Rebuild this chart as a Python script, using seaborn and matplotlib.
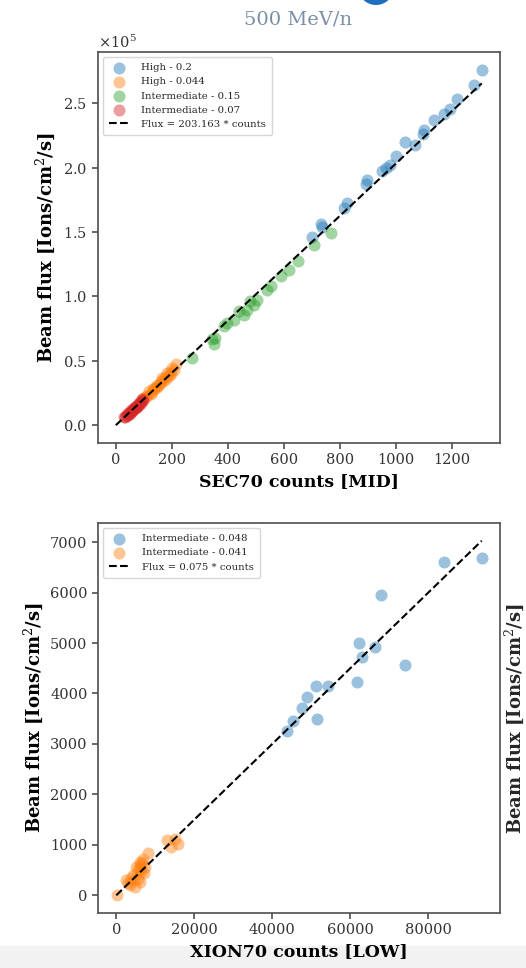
import matplotlib
matplotlib.use("Agg")
import matplotlib.pyplot as plt
from matplotlib.patches import Polygon, Rectangle
import numpy as np
import seaborn as sns

# --- top panel: SEC70 (MID) ---
sec_groups = ["High - 0.2", "High - 0.044", "Intermediate - 0.15", "Intermediate - 0.07"]
sec_x = {
    "High - 0.2": [701, 732, 735, 816, 824, 893, 898, 952, 964, 981, 1000, 1034,
                   1068, 1097, 1100, 1135, 1172, 1195, 1218, 1281, 1307],
    "High - 0.044": [95, 101, 107, 113, 119, 124, 128, 133, 136, 142, 148, 152,
                     157, 162, 166, 170, 175, 180, 184, 190, 193, 198, 202, 208,
                     214],
    "Intermediate - 0.15": [273, 344, 350, 356, 385, 397, 421, 439, 459, 469, 480,
                            492, 504, 540, 555, 591, 620, 652, 708, 767],
    "Intermediate - 0.07": [30, 33, 36, 40, 42, 45, 47, 50, 53, 55, 58, 60, 62, 65,
                            67, 70, 72, 74, 77, 80, 82, 84, 87, 89, 93, 95, 98],
}
sec_y = {
    "High - 0.2": [146500, 156100, 153800, 168500, 172400, 187100, 190400, 197600,
                   199400, 202000, 209200, 219600, 217500, 226500, 229000, 236800,
                   241500, 245900, 253300, 264500, 276100],
    "High - 0.044": [20100, 21000, 22700, 22300, 26500, 24500, 26000, 27800, 29200,
                     28500, 31000, 30500, 32000, 34000, 36900, 34500, 37500, 36000,
                     40800, 38500, 41500, 40000, 44700, 43000, 47200],
    "Intermediate - 0.15": [52400, 66600, 62700, 67900, 76900, 79500, 82000, 88500,
                            85900, 89800, 96200, 93700, 97500, 105300, 107800,
                            115600, 120700, 127200, 139600, 149100],
    "Intermediate - 0.07": [6700, 6300, 7000, 8200, 7700, 9500, 9800, 9000, 10300,
                            11800, 11200, 12800, 12000, 12400, 14200, 14000, 13500,
                            14500, 15000, 16800, 15800, 16500, 18200, 17600, 18500,
                            20000, 19500],
}
sec_slope = 203.163

# --- bottom panel: XION70 (LOW) ---
xion_groups = ["Intermediate - 0.048", "Intermediate - 0.041"]
xion_x = {
    "Intermediate - 0.048": [43700, 45200, 47700, 48900, 51200, 51500, 54300, 61600,
                             62200, 62900, 66300, 68000, 74000, 83900, 93700],
    "Intermediate - 0.041": [150, 2560, 3000, 3410, 3900, 4270, 4500, 4700, 5130,
                             5550, 5500, 5980, 5980, 6000, 6200, 6410, 6600, 6830,
                             7000, 7270, 8110, 12990, 14110, 14960, 15810],
}
xion_y = {
    "Intermediate - 0.048": [3250, 3450, 3710, 3940, 4140, 3500, 4140, 4220, 5000,
                             4720, 4930, 5960, 4560, 6600, 6690],
    "Intermediate - 0.041": [14, 297, 250, 198, 350, 396, 300, 165, 561, 330, 500,
                             264, 660, 600, 520, 462, 640, 725, 450, 561, 838, 1103,
                             957, 1122, 1010],
}
xion_slope = 0.075

sns.set_theme(style="ticks")
plt.rcParams["font.family"] = ["DejaVu Serif"]
plt.rcParams["mathtext.fontset"] = "dejavuserif"
plt.rcParams["axes.edgecolor"] = "#555555"
plt.rcParams["xtick.color"] = "#555555"
plt.rcParams["ytick.color"] = "#555555"
plt.rcParams["xtick.labelcolor"] = "#333333"
plt.rcParams["ytick.labelcolor"] = "#333333"

palette = sns.color_palette("tab10")
YLABEL = r"Beam flux [Ions/cm$^2$/s]"
W, H = 526, 968


def panel(ax, groups, xs, ys, slope, xlabel):
    for i, g in enumerate(groups):
        sns.scatterplot(x=xs[g], y=ys[g], color=palette[i], alpha=0.45, s=75,
                        linewidth=0, label=g, ax=ax)
    xmax = max(max(v) for v in xs.values())
    line_x = np.array([0, xmax])
    ax.plot(line_x, slope * line_x, "--", color="black", lw=1.5,
            label=f"Flux = {slope:g} * counts")
    ax.set_xlabel(xlabel, fontsize=12.5, fontweight="bold", color="black")
    ax.set_ylabel(YLABEL, fontsize=13, fontweight="bold", color="black")
    ax.tick_params(labelsize=10.5, length=4)
    ax.legend(loc="upper left", fontsize=7.3, borderpad=0.6, handletextpad=1.2)


fig = plt.figure(figsize=(W / 100, H / 100), dpi=100)

ax1 = fig.add_axes([0.1854, 0.5424, 0.7652, 0.4039])
panel(ax1, sec_groups, sec_x, sec_y, sec_slope, "SEC70 counts [MID]")
ax1.ticklabel_format(style="sci", axis="y", scilimits=(0, 0), useMathText=True)
ax1.yaxis.get_offset_text().set_fontsize(10.5)

ax2 = fig.add_axes([0.1863, 0.0568, 0.7643, 0.4029])
panel(ax2, xion_groups, xion_x, xion_y, xion_slope, "XION70 counts [LOW]")

# neighbouring content visible in the screenshot
fig.text(298 / W, 1 - 19 / H, "500 MeV/n", ha="center", va="center",
         fontsize=14, color="#7b8fa6")
fig.text(514 / W, 1 - 719 / H, YLABEL, rotation=90, ha="center", va="center",
         fontsize=13, fontweight="bold")

# only the lower rim of a blue logo shows at the top edge
t = np.linspace(-np.arccos(13 / 18), np.arccos(13 / 18), 30)
rim = np.column_stack([(376 + 18 * np.sin(t)) / W, 1 - (18 * np.cos(t) - 13) / H])
fig.add_artist(Polygon(rim, closed=True, transform=fig.transFigure,
                       color="#1f6fbf", lw=0))
fig.add_artist(Rectangle((0, 0), 1, 22 / H, transform=fig.transFigure,
                         color="#f2f2f2", zorder=-1))

fig.savefig("out.png", dpi=100)
